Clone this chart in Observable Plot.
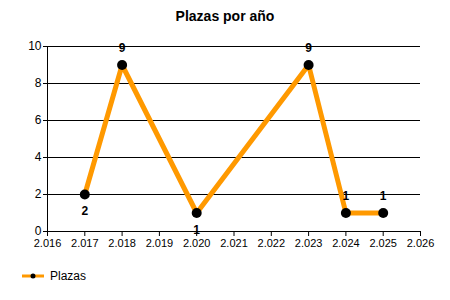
<!DOCTYPE html>
<html>
<head>
<meta charset="utf-8">
<script src="https://cdn.jsdelivr.net/npm/d3@7"></script>
<script src="https://cdn.jsdelivr.net/npm/@observablehq/plot@0.6"></script>
<style>
  body { margin: 0; background: #fff; font-family: "Liberation Sans", Arial, sans-serif; }
  #wrap { position: relative; width: 450px; height: 300px; overflow: hidden; }
  #title { position: absolute; top: 8px; left: 0; width: 450px; text-align: center; font-weight: bold; font-size: 14px; color: #000; }
  #chart { position: absolute; top: 0; left: 0; }
  #legend { position: absolute; top: 269px; left: 22px; display: flex; align-items: center; font-size: 12px; color: #000; }
  #legend svg { margin-right: 6px; }
</style>
</head>
<body>
<div id="wrap">
  <div id="chart"></div>
  <div id="title">Plazas por año</div>
  <div id="legend"></div>
</div>
<script>
const years = [2017, 2018, 2020, 2023, 2024, 2025];
const plazas = [2, 9, 1, 9, 1, 1];
const labelBelow = [true, false, true, false, false, false];
const seriesName = "Plazas";
const xTicks = [2016, 2017, 2018, 2019, 2020, 2021, 2022, 2023, 2024, 2025, 2026];
const yTicks = [0, 2, 4, 6, 8, 10];

const lineColor = "#FF9900";
const data = years.map((y, i) => ({year: y, value: plazas[i], below: labelBelow[i]}));
const esFormat = d3.formatLocale({decimal: ",", thousands: ".", grouping: [3], currency: ["", "€"]}).format(",d");

const chart = Plot.plot({
  width: 450,
  height: 260,
  marginTop: 46,
  marginBottom: 29,
  marginLeft: 47,
  marginRight: 30,
  style: {fontFamily: "'Liberation Sans', Arial, sans-serif", fontSize: "12px", color: "#000", background: "#fff"},
  x: {domain: [2016, 2026], ticks: xTicks, tickFormat: esFormat, label: null},
  y: {domain: [0, 10], ticks: yTicks, label: null},
  marks: [
    Plot.ruleY(yTicks, {stroke: "#000", strokeWidth: 1, strokeOpacity: 1}),
    Plot.ruleX([2016], {stroke: "#000", strokeWidth: 1}),
    Plot.axisY({ticks: yTicks, tickSize: 4, tickPadding: 2, fontSize: 12, stroke: "#000"}),
    Plot.axisX({ticks: xTicks, tickSize: 5, tickPadding: 3, fontSize: 11, tickFormat: esFormat, stroke: "#000"}),
    Plot.line(data, {x: "year", y: "value", stroke: lineColor, strokeWidth: 5, strokeLinejoin: "miter"}),
    Plot.dot(data, {x: "year", y: "value", r: 5, fill: "#000", stroke: "none"}),
    Plot.text(data.filter(d => !d.below), {x: "year", y: "value", text: d => String(d.value), dy: -17, fontWeight: "bold", fontSize: 12, fill: "#000"}),
    Plot.text(data.filter(d => d.below), {x: "year", y: "value", text: d => String(d.value), dy: 17, fontWeight: "bold", fontSize: 12, fill: "#000"})
  ]
});
document.getElementById("chart").appendChild(chart);

// legend
const leg = document.getElementById("legend");
const ls = d3.create("svg").attr("width", 22).attr("height", 10);
ls.append("line").attr("x1", 0).attr("x2", 22).attr("y1", 5).attr("y2", 5).attr("stroke", lineColor).attr("stroke-width", 3);
ls.append("circle").attr("cx", 11).attr("cy", 5).attr("r", 2.5).attr("fill", "#000");
leg.appendChild(ls.node());
const lt = document.createElement("span");
lt.textContent = seriesName;
leg.appendChild(lt);
</script>
</body>
</html>
